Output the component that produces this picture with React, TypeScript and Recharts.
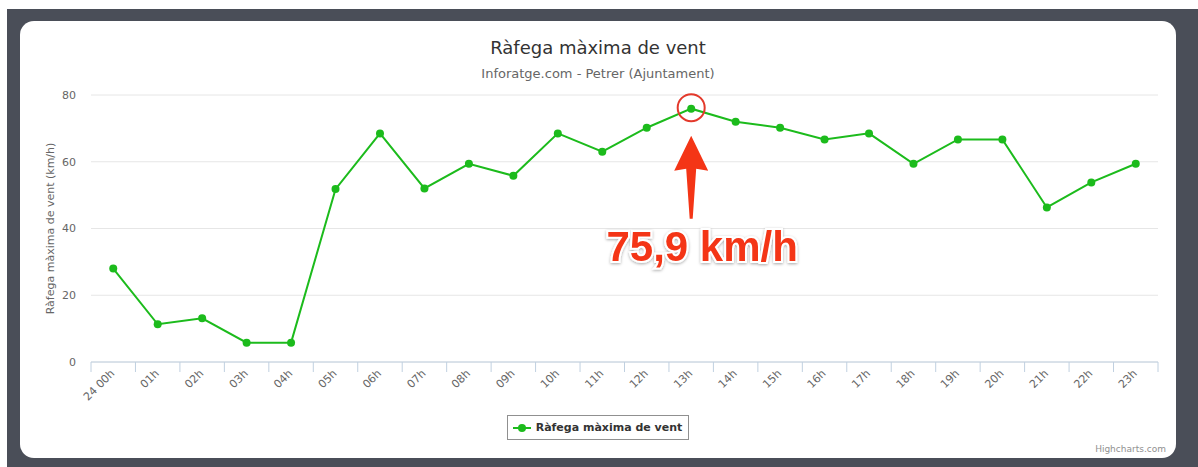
import React from 'react';
import {
  CartesianGrid,
  Legend,
  Line,
  LineChart,
  ReferenceDot,
  XAxis,
  YAxis,
} from 'recharts';

const hours = [
  '24 00h', '01h', '02h', '03h', '04h', '05h', '06h', '07h', '08h', '09h', '10h', '11h',
  '12h', '13h', '14h', '15h', '16h', '17h', '18h', '19h', '20h', '21h', '22h', '23h',
];
const gust = [
  28.0, 11.3, 13.1, 5.8, 5.8, 51.8, 68.5, 52.0, 59.4, 55.8, 68.5, 63.0,
  70.2, 75.9, 72.0, 70.2, 66.7, 68.5, 59.4, 66.7, 66.7, 46.3, 53.8, 59.4,
];
const yTicks = [0, 20, 40, 60, 80];
const peakHour = '13h';
const peakValue = 75.9;
const peakLabel = '75,9 km/h';

const title = 'Ràfega màxima de vent';
const subtitle = 'Inforatge.com - Petrer (Ajuntament)';
const yTitle = 'Ràfega màxima de vent (km/h)';
const seriesName = 'Ràfega màxima de vent';

const data = hours.map((h, i) => ({ hour: h, gust: gust[i] }));

const FONT = '"DejaVu Sans", Verdana, sans-serif';
const GREEN = '#1cbb1c';
const AXIS = '#c0d0e0';
const HALF_BAND = 22.24;

function HourTick(props: any) {
  const { x, y, payload, index } = props;
  const tx = x + 2;
  const ty = y + 12;
  return (
    <g>
      <line x1={x - HALF_BAND} y1={y} x2={x - HALF_BAND} y2={y + 10} stroke={AXIS} />
      {index === hours.length - 1 && (
        <line x1={x + HALF_BAND} y1={y} x2={x + HALF_BAND} y2={y + 10} stroke={AXIS} />
      )}
      <text
        x={tx}
        y={ty}
        textAnchor="end"
        transform={`rotate(-45 ${tx} ${ty})`}
        fontSize={11}
        fill="#666"
        fontFamily={FONT}
      >
        {payload.value}
      </text>
    </g>
  );
}

function PeakMark(props: any) {
  const { cx, cy } = props;
  const arrow = [
    [cx, cy + 27],
    [cx + 17, cy + 62],
    [cx + 5, cy + 60],
    [cx + 1.5, cy + 110],
    [cx - 1.5, cy + 110],
    [cx - 5, cy + 60],
    [cx - 17, cy + 62],
  ]
    .map((p) => p.join(','))
    .join(' ');
  return (
    <g>
      <defs>
        <filter id="peakShadow" x="-20%" y="-40%" width="140%" height="180%">
          <feDropShadow dx="0" dy="1" stdDeviation="1.5" floodColor="#000" floodOpacity="0.35" />
        </filter>
      </defs>
      <circle cx={cx} cy={cy - 1} r={13.5} fill="none" stroke="#e3392b" strokeWidth={2} />
      <polygon points={arrow} fill="#f43516" />
      <text
        x={cx + 11}
        y={cy + 152}
        textAnchor="middle"
        fontFamily='"Liberation Sans", Arial, sans-serif'
        fontWeight="bold"
        fontSize={42}
        fill="#f43516"
        stroke="#fff"
        strokeWidth={4}
        paintOrder="stroke"
        filter="url(#peakShadow)"
      >
        {peakLabel}
      </text>
    </g>
  );
}

function LegendBox() {
  return (
    <div style={{ display: 'flex', justifyContent: 'center' }}>
      <div
        style={{
          display: 'flex',
          alignItems: 'center',
          height: 23,
          padding: '0 6px 0 5px',
          border: '1px solid #909090',
          fontFamily: FONT,
          fontSize: 11,
          fontWeight: 'bold',
          color: '#333',
        }}
      >
        <svg width={18} height={10} style={{ marginRight: 5 }}>
          <line x1={0} y1={5} x2={18} y2={5} stroke={GREEN} strokeWidth={2} />
          <circle cx={9} cy={5} r={4} fill={GREEN} />
        </svg>
        {seriesName}
      </div>
    </div>
  );
}

export default function App() {
  return (
    <div
      style={{
        position: 'fixed',
        left: 0,
        top: 0,
        width: 1198,
        height: 467,
        background: '#fff',
        overflow: 'hidden',
      }}
    >
      <div
        style={{
          position: 'absolute',
          left: 7,
          top: 9,
          right: 0,
          bottom: 0,
          background: '#4a4e58',
        }}
      />
      <div
        style={{
          position: 'absolute',
          left: 20,
          top: 21,
          width: 1156,
          height: 437,
          background: '#fff',
          borderRadius: 14,
          fontFamily: FONT,
        }}
      >
        <div
          style={{
            position: 'absolute',
            top: 16,
            width: '100%',
            textAlign: 'center',
            fontSize: 18,
            color: '#333',
          }}
        >
          {title}
        </div>
        <div
          style={{
            position: 'absolute',
            top: 45,
            width: '100%',
            textAlign: 'center',
            fontSize: 13,
            color: '#666',
          }}
        >
          {subtitle}
        </div>
        <div style={{ position: 'absolute', left: 0, top: 0 }}>
          <LineChart
            width={1156}
            height={437}
            data={data}
            margin={{ top: 74, right: 18, left: 21, bottom: 56 }}
          >
            <CartesianGrid vertical={false} stroke="#e6e6e6" />
            <XAxis
              dataKey="hour"
              interval={0}
              height={40}
              padding={{ left: HALF_BAND, right: HALF_BAND }}
              stroke={AXIS}
              tickLine={false}
              tickSize={0}
              tickMargin={0}
              tick={<HourTick />}
            />
            <YAxis
              width={50}
              domain={[0, 80]}
              ticks={yTicks}
              axisLine={false}
              tickLine={false}
              tickSize={0}
              tickMargin={15}
              tick={{ fontSize: 11, fill: '#666', fontFamily: FONT }}
              label={{
                content: (p: any) => {
                  const vb = p.viewBox;
                  const lx = vb.x + 9;
                  const ly = vb.y + vb.height / 2;
                  return (
                    <text
                      x={lx}
                      y={ly}
                      transform={`rotate(-90 ${lx} ${ly})`}
                      textAnchor="middle"
                      dominantBaseline="central"
                      fontSize={11}
                      fill="#666"
                      fontFamily={FONT}
                    >
                      {yTitle}
                    </text>
                  );
                },
              }}
            />
            <Legend
              verticalAlign="middle"
              align="center"
              layout="horizontal"
              wrapperStyle={{ left: 0, top: 394, width: 1156 }}
              content={<LegendBox />}
            />
            <Line
              type="linear"
              dataKey="gust"
              name={seriesName}
              stroke={GREEN}
              strokeWidth={2}
              dot={{ r: 4, fill: GREEN, stroke: 'none' }}
              activeDot={false}
              isAnimationActive={false}
            />
            <ReferenceDot x={peakHour} y={peakValue} r={14} shape={<PeakMark />} />
          </LineChart>
        </div>
        <div
          style={{
            position: 'absolute',
            right: 10,
            top: 423,
            fontSize: 9,
            color: '#909090',
          }}
        >
          Highcharts.com
        </div>
      </div>
    </div>
  );
}
